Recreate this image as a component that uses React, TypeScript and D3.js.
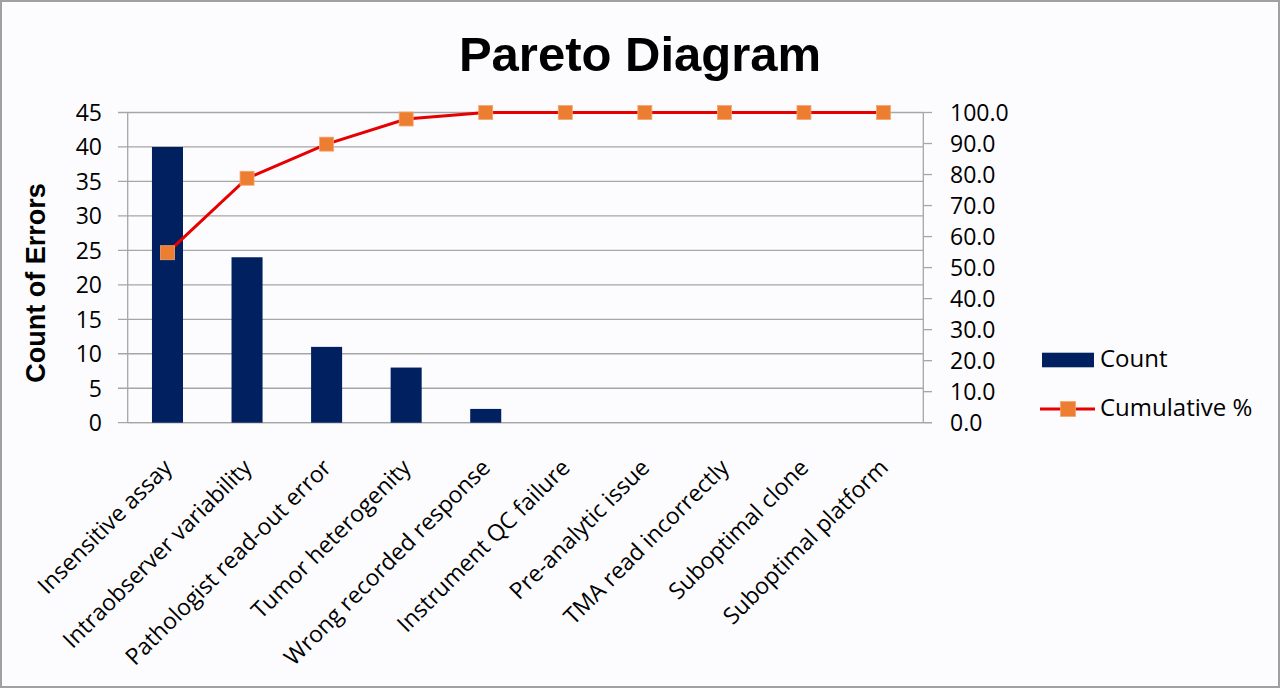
import * as d3 from 'd3';

const categories = [
  'Insensitive assay',
  'Intraobserver variability',
  'Pathologist read-out error',
  'Tumor heterogenity',
  'Wrong recorded response',
  'Instrument QC failure',
  'Pre-analytic issue',
  'TMA read incorrectly',
  'Suboptimal clone',
  'Suboptimal platform',
];
const counts = [40, 24, 11, 8, 2, 0, 0, 0, 0, 0];
const cumulative = [54.8, 78.8, 89.8, 97.9, 100, 100, 100, 100, 100, 100];
const leftTicks = [0, 5, 10, 15, 20, 25, 30, 35, 40, 45];
const rightTicks = [0, 10, 20, 30, 40, 50, 60, 70, 80, 90, 100];

const W = 1280;
const H = 688;
const plot = { left: 127.7, right: 923.3, top: 112.5, bottom: 422.7 };

const GRID = '#a6a6a6';
const BAR = '#002060';
const LINE = '#e60000';
const MARK = '#ed7d31';
const FONT = '"Open Sans", sans-serif';
const BOLD = '"Liberation Sans", Arial, sans-serif';

export default function App() {
  const x = d3.scaleBand<string>()
    .domain(categories)
    .range([plot.left, plot.right])
    .paddingInner(0.61)
    .paddingOuter(0.305);
  const band = d3.scaleBand<string>().domain(categories).range([plot.left, plot.right]);
  const cx = (c: string) => (band(c) || 0) + band.bandwidth() / 2;
  const yL = d3.scaleLinear().domain([0, 45]).range([plot.bottom, plot.top]);
  const yR = d3.scaleLinear().domain([0, 100]).range([plot.bottom, plot.top]);

  const line = d3.line<number>()
    .x((_, i) => cx(categories[i]))
    .y(d => yR(d));

  return (
    <svg width={W} height={H} style={{ position: 'absolute', left: 0, top: 0 }}>
      <rect x={1} y={1} width={W - 2} height={H - 2} fill="#fcfcfe" stroke="#a0a0a0" strokeWidth={2} />

      {/* title */}
      <text x={640} y={71} textAnchor="middle" fontFamily={BOLD} fontWeight="bold" fontSize={49}>Pareto Diagram</text>

      {/* gridlines + left ticks */}
      {leftTicks.map(t => (
        <g key={t}>
          <line x1={118} x2={plot.right} y1={yL(t)} y2={yL(t)} stroke={GRID} strokeWidth={1.3} />
          <text x={102} y={yL(t)} dy="0.36em" textAnchor="end" fontFamily={FONT} fontSize={23}>{t}</text>
        </g>
      ))}
      <line x1={plot.left} x2={plot.left} y1={plot.top} y2={plot.bottom} stroke={GRID} strokeWidth={1.3} />
      <line x1={plot.left} x2={932} y1={plot.bottom} y2={plot.bottom} stroke={GRID} strokeWidth={1.3} />

      {/* right axis */}
      <line x1={plot.right} x2={plot.right} y1={plot.top} y2={plot.bottom} stroke={GRID} strokeWidth={1.3} />
      {rightTicks.map(t => (
        <g key={t}>
          <line x1={plot.right} x2={932} y1={yR(t)} y2={yR(t)} stroke={GRID} strokeWidth={1.3} />
          <text x={950} y={yR(t)} dy="0.36em" fontFamily={FONT} fontSize={23}>{t.toFixed(1)}</text>
        </g>
      ))}

      {/* bars */}
      {categories.map((c, i) => counts[i] > 0 && (
        <rect key={c} x={x(c)} y={yL(counts[i])} width={x.bandwidth()}
          height={plot.bottom - yL(counts[i])} fill={BAR} />
      ))}

      {/* cumulative line */}
      <path d={line(cumulative) || ''} fill="none" stroke={LINE} strokeWidth={3} />
      {cumulative.map((v, i) => (
        <rect key={i} x={cx(categories[i]) - 7} y={yR(v) - 7} width={14} height={14}
          fill={MARK} stroke="#f4a66e" strokeWidth={0.8} />
      ))}

      {/* y title */}
      <text transform="translate(45,283) rotate(-90)" textAnchor="middle"
        fontFamily={BOLD} fontWeight="bold" fontSize={27}>Count of Errors</text>

      {/* category labels */}
      {categories.map(c => (
        <text key={c} transform={`translate(${cx(c) + 6},469) rotate(-45)`} textAnchor="end"
          fontFamily={FONT} fontSize={23}>{c}</text>
      ))}

      {/* legend */}
      <rect x={1042} y={352.7} width={52} height={14.6} fill={BAR} />
      <text x={1100} y={367} fontFamily={FONT} fontSize={24}>Count</text>
      <line x1={1040} x2={1095} y1={409} y2={409} stroke={LINE} strokeWidth={3} />
      <rect x={1060.5} y={401.5} width={15} height={15} fill={MARK} stroke="#f4a66e" strokeWidth={0.8} />
      <text x={1100} y={416} fontFamily={FONT} fontSize={24}>Cumulative %</text>
    </svg>
  );
}
